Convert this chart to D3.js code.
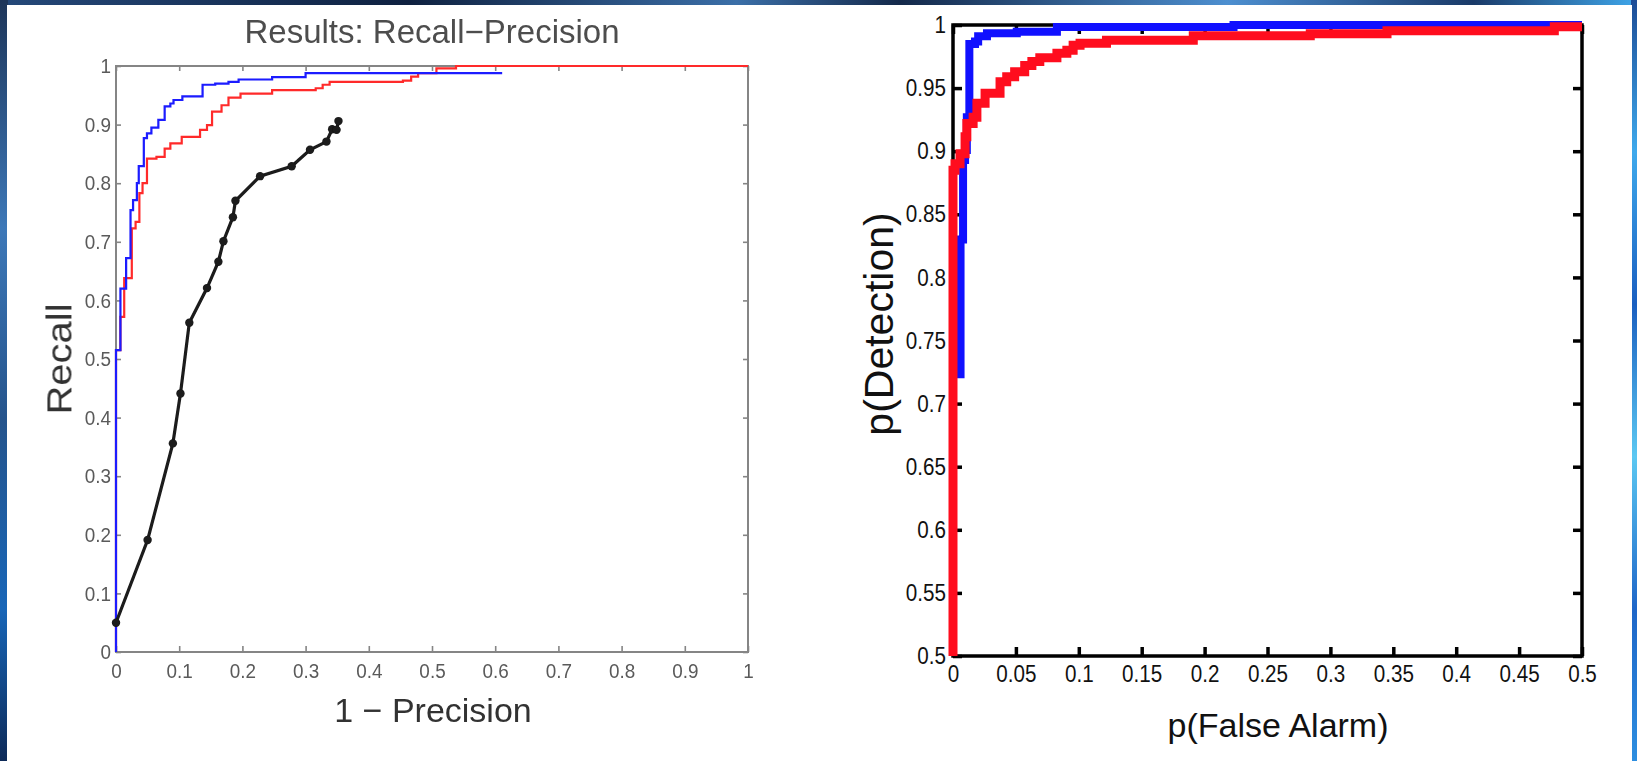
<!DOCTYPE html>
<html>
<head>
<meta charset="utf-8">
<script src="https://cdn.jsdelivr.net/npm/d3@7"></script>
<style>
  html, body { margin: 0; padding: 0; background: #12284a; }
  svg { display: block; }
  text { font-family: "Liberation Sans", Arial, Helvetica, sans-serif; }
</style>
</head>
<body>
<script>
// ---------- Recall / precision panel ----------
const rpTickValues = [0, 0.1, 0.2, 0.3, 0.4, 0.5, 0.6, 0.7, 0.8, 0.9, 1];
const rpTickLabels = ["0", "0.1", "0.2", "0.3", "0.4", "0.5", "0.6", "0.7", "0.8", "0.9", "1"];

// [1 - precision, recall] corners of the stair curves
const rpBlue = [
  [0, 0], [0, 0.515], [0.007, 0.62], [0.016, 0.672], [0.023, 0.754], [0.027, 0.771],
  [0.033, 0.80], [0.036, 0.829], [0.044, 0.877], [0.049, 0.885], [0.056, 0.895],
  [0.067, 0.908], [0.077, 0.931], [0.086, 0.936], [0.091, 0.942], [0.105, 0.948],
  [0.137, 0.968], [0.157, 0.970], [0.178, 0.973], [0.194, 0.977], [0.247, 0.981],
  [0.30, 0.988], [0.611, 0.988]
];
const rpRed = [
  [0, 0], [0, 0.515], [0.007, 0.572], [0.013, 0.638], [0.025, 0.723], [0.031, 0.734],
  [0.037, 0.783], [0.042, 0.80], [0.049, 0.842], [0.064, 0.845], [0.077, 0.859],
  [0.086, 0.868], [0.104, 0.879], [0.133, 0.891], [0.144, 0.899], [0.152, 0.922],
  [0.167, 0.933], [0.178, 0.946], [0.197, 0.953], [0.247, 0.959], [0.316, 0.962],
  [0.327, 0.968], [0.338, 0.973], [0.454, 0.975], [0.467, 0.982], [0.478, 0.988],
  [0.507, 0.996], [0.538, 1.0], [1.0, 1.0]
];
// operating points of the black curve
const rpBlack = [
  [0, 0.05], [0.05, 0.191], [0.090, 0.356], [0.102, 0.441], [0.116, 0.562],
  [0.144, 0.621], [0.162, 0.666], [0.170, 0.701], [0.185, 0.742], [0.189, 0.770],
  [0.228, 0.812], [0.278, 0.829], [0.307, 0.857], [0.333, 0.871], [0.342, 0.892],
  [0.349, 0.891], [0.352, 0.906]
];

// ---------- ROC panel ----------
const rocXTickValues = [0, 0.05, 0.1, 0.15, 0.2, 0.25, 0.3, 0.35, 0.4, 0.45, 0.5];
const rocXTickLabels = ["0", "0.05", "0.1", "0.15", "0.2", "0.25", "0.3", "0.35", "0.4", "0.45", "0.5"];
const rocYTickValues = [0.5, 0.55, 0.6, 0.65, 0.7, 0.75, 0.8, 0.85, 0.9, 0.95, 1];
const rocYTickLabels = ["0.5", "0.55", "0.6", "0.65", "0.7", "0.75", "0.8", "0.85", "0.9", "0.95", "1"];

// [p(false alarm), p(detection)]
const rocBlue = [
  [0.006, 0.72], [0.006, 0.83], [0.008, 0.893], [0.0096, 0.901], [0.011, 0.927],
  [0.013, 0.985], [0.0175, 0.987], [0.020, 0.991], [0.027, 0.9934], [0.0507, 0.9947],
  [0.0826, 0.9985], [0.223, 1.0], [0.5, 1.0]
];
const rocRed = [
  [0, 0.5], [0, 0.885], [0.0016, 0.890], [0.0056, 0.898], [0.0096, 0.9115],
  [0.011, 0.922], [0.016, 0.927], [0.019, 0.938], [0.0255, 0.946], [0.0374, 0.955],
  [0.0427, 0.959], [0.049, 0.963], [0.057, 0.968], [0.0627, 0.971], [0.069, 0.974],
  [0.0826, 0.9776], [0.0905, 0.980], [0.0955, 0.984], [0.101, 0.9855], [0.122, 0.988],
  [0.191, 0.9915], [0.284, 0.993], [0.345, 0.9955], [0.478, 0.9987], [0.5, 0.9987]
];

const W = 1637, H = 761;
const svg = d3.select("body").append("svg").attr("width", W).attr("height", H);
const defs = svg.append("defs");

function gradient(id, x2, y2, stops) {
  const g = defs.append("linearGradient").attr("id", id)
    .attr("x1", 0).attr("y1", 0).attr("x2", x2).attr("y2", y2);
  stops.forEach(([o, c]) => g.append("stop").attr("offset", o).attr("stop-color", c));
}
gradient("bgTop", 1, 0, [[0, "#25497a"], [0.25, "#0f2140"], [0.45, "#3b6fa8"], [0.55, "#14294a"], [0.75, "#4d8fd0"], [0.9, "#1a3a68"], [1, "#3fa6ea"]]);
gradient("bgLeft", 0, 1, [[0, "#1d3559"], [0.3, "#3d78b8"], [0.55, "#25548c"], [0.8, "#1866b8"], [1, "#0d2a58"]]);
gradient("bgRight", 0, 1, [[0, "#1c4c96"], [0.2, "#3fa9ec"], [0.4, "#1a5fc0"], [0.6, "#5cc8f2"], [0.8, "#1e66c8"], [1, "#2d8ee0"]]);

const soft = defs.append("filter").attr("id", "soft");
soft.append("feGaussianBlur").attr("stdDeviation", 0.45);

// slide background and white figure area
svg.append("rect").attr("width", W).attr("height", H).attr("fill", "url(#bgTop)");
svg.append("rect").attr("x", 0).attr("y", 0).attr("width", 8).attr("height", H).attr("fill", "url(#bgLeft)");
svg.append("rect").attr("x", 1631).attr("y", 0).attr("width", 6).attr("height", H).attr("fill", "url(#bgRight)");
svg.append("rect").attr("x", 7).attr("y", 5).attr("width", 1625).attr("height", H - 5).attr("fill", "#ffffff");

// condensed text: glyphs narrowed horizontally
function styleTicks(sel, size, sx, color, xShift) {
  sel.selectAll(".tick text")
    .attr("font-size", size)
    .attr("fill", color)
    .attr("transform", `scale(${sx},1)`)
    .each(function () {
      if (xShift !== undefined) d3.select(this).attr("x", xShift / sx);
    });
}

// ================= Recall / precision =================
const xL = d3.scaleLinear().domain([0, 1]).range([116, 748]);
const yL = d3.scaleLinear().domain([0, 1]).range([652, 66]);
const gL = svg.append("g").attr("filter", "url(#soft)");
const axisGrey = "#858585";

gL.append("rect")
  .attr("x", xL(0)).attr("y", yL(1))
  .attr("width", xL(1) - xL(0)).attr("height", yL(0) - yL(1))
  .attr("fill", "none").attr("stroke", axisGrey).attr("stroke-width", 2);

const lb = gL.append("g").attr("transform", `translate(0,${yL(0)})`)
  .call(d3.axisBottom(xL).tickValues(rpTickValues).tickFormat((d, i) => rpTickLabels[i])
    .tickSizeInner(-6).tickSizeOuter(0).tickPadding(11));
const ll = gL.append("g").attr("transform", `translate(${xL(0)},0)`)
  .call(d3.axisLeft(yL).tickValues(rpTickValues).tickFormat((d, i) => rpTickLabels[i])
    .tickSizeInner(-5).tickSizeOuter(0).tickPadding(5));
const lt = gL.append("g").attr("transform", `translate(0,${yL(1)})`)
  .call(d3.axisTop(xL).tickValues(rpTickValues).tickFormat("").tickSizeInner(-5).tickSizeOuter(0));
const lr = gL.append("g").attr("transform", `translate(${xL(1)},0)`)
  .call(d3.axisRight(yL).tickValues(rpTickValues).tickFormat("").tickSizeInner(-5).tickSizeOuter(0));
[lb, ll, lt, lr].forEach(a => {
  a.select(".domain").remove();
  a.selectAll(".tick line").attr("stroke", axisGrey).attr("stroke-width", 1.6);
});
styleTicks(lb, 21, 0.9, "#5a5a5a");
styleTicks(ll, 21, 0.9, "#5a5a5a", -5);
lb.selectAll(".tick text").attr("font-family", "Liberation Sans, Arial, sans-serif");

const stepL = d3.line().x(d => xL(d[0])).y(d => yL(d[1])).curve(d3.curveStepAfter);
gL.append("path").datum(rpRed).attr("d", stepL)
  .attr("fill", "none").attr("stroke", "#ff2a2a").attr("stroke-width", 2.2);
gL.append("path").datum(rpBlue).attr("d", stepL)
  .attr("fill", "none").attr("stroke", "#1a1aff").attr("stroke-width", 2.2);

const lineL = d3.line().x(d => xL(d[0])).y(d => yL(d[1]));
gL.append("path").datum(rpBlack).attr("d", lineL)
  .attr("fill", "none").attr("stroke", "#1a1a1a").attr("stroke-width", 3.2);
gL.selectAll("circle.pt").data(rpBlack).join("circle").attr("class", "pt")
  .attr("cx", d => xL(d[0])).attr("cy", d => yL(d[1])).attr("r", 4.2)
  .attr("fill", "#1a1a1a");

// titles and axis names
gL.append("text").attr("x", (xL(0) + xL(1)) / 2).attr("y", 43)
  .attr("text-anchor", "middle").attr("font-size", 33).attr("fill", "#4d4d4d")
  .text("Results: Recall\u2212Precision");
gL.append("text").attr("x", (xL(0) + xL(1)) / 2 + 1).attr("y", 722)
  .attr("text-anchor", "middle").attr("font-size", 34).attr("fill", "#333")
  .text("1 \u2212 Precision");
gL.append("text").attr("transform", `translate(71,${(yL(0) + yL(1)) / 2}) rotate(-90) scale(1,0.88)`)
  .attr("text-anchor", "middle").attr("font-size", 40).attr("fill", "#333")
  .text("Recall");

// ================= ROC =================
const xR = d3.scaleLinear().domain([0, 0.5]).range([953, 1582]);
const yR = d3.scaleLinear().domain([0.5, 1]).range([656, 25]);
const gR = svg.append("g");

gR.append("rect")
  .attr("x", xR(0)).attr("y", yR(1))
  .attr("width", xR(0.5) - xR(0)).attr("height", yR(0.5) - yR(1))
  .attr("fill", "none").attr("stroke", "#000").attr("stroke-width", 3.5);

const rb = gR.append("g").attr("transform", `translate(0,${yR(0.5)})`)
  .call(d3.axisBottom(xR).tickValues(rocXTickValues).tickFormat((d, i) => rocXTickLabels[i])
    .tickSizeInner(-9).tickSizeOuter(0).tickPadding(9));
const rl = gR.append("g").attr("transform", `translate(${xR(0)},0)`)
  .call(d3.axisLeft(yR).tickValues(rocYTickValues).tickFormat((d, i) => rocYTickLabels[i])
    .tickSizeInner(-9).tickSizeOuter(0).tickPadding(7));
const rt = gR.append("g").attr("transform", `translate(0,${yR(1)})`)
  .call(d3.axisTop(xR).tickValues(rocXTickValues).tickFormat("").tickSizeInner(-9).tickSizeOuter(0));
const rr = gR.append("g").attr("transform", `translate(${xR(0.5)},0)`)
  .call(d3.axisRight(yR).tickValues(rocYTickValues).tickFormat("").tickSizeInner(-9).tickSizeOuter(0));
[rb, rl, rt, rr].forEach(a => {
  a.select(".domain").remove();
  a.selectAll(".tick line").attr("stroke", "#000").attr("stroke-width", 3.5);
});
styleTicks(rb, 24, 0.86, "#111");
styleTicks(rl, 24, 0.86, "#111", -7);

const stepR = d3.line().x(d => xR(d[0])).y(d => yR(d[1])).curve(d3.curveStepAfter);
gR.append("path").datum(rocBlue).attr("d", stepR)
  .attr("fill", "none").attr("stroke", "#1010ff").attr("stroke-width", 8);
gR.append("path").datum(rocRed).attr("d", stepR)
  .attr("fill", "none").attr("stroke", "#ff0d1e").attr("stroke-width", 9);

gR.append("text").attr("x", 1278).attr("y", 737)
  .attr("text-anchor", "middle").attr("font-size", 34).attr("fill", "#111")
  .text("p(False Alarm)");
gR.append("text").attr("transform", "translate(893,324) rotate(-90)")
  .attr("text-anchor", "middle").attr("font-size", 41).attr("fill", "#111")
  .text("p(Detection)");
</script>
</body>
</html>
